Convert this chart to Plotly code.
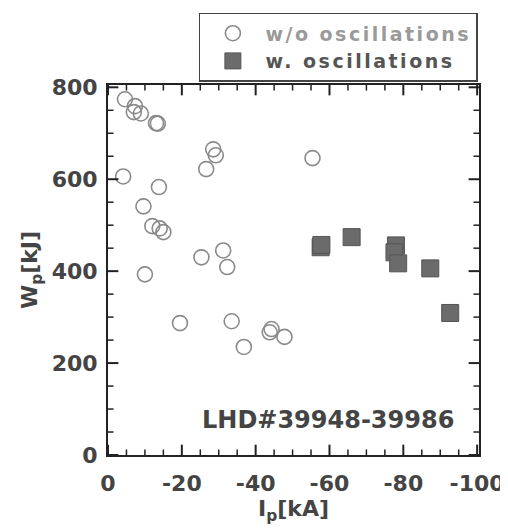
import plotly.graph_objects as go

# Data
ip_without = [-4.6, -7.3, -7.0, -8.9, -13.0, -13.5, -4.1, -13.8, -9.6, -12.0, -14.0, -15.0,
              -10.0, -25.3, -31.2, -32.3, -28.5, -29.2, -26.6, -55.4, -19.5, -33.5, -36.8,
              -43.8, -44.3, -47.8]
wp_without = [774, 759, 746, 743, 722, 721, 606, 583, 541, 498, 493, 485,
              393, 430, 445, 409, 665, 652, 622, 646, 287, 291, 235,
              267, 274, 257]

ip_with = [-57.6, -57.8, -66.0, -78.0, -77.6, -78.6, -87.3, -92.7]
wp_with = [452, 457, 474, 456, 441, 417, 406, 309]

x_ticks = [0, -20, -40, -60, -80, -100]
x_tick_labels = ["0", "-20", "-40", "-60", "-80", "-100"]
y_ticks = [0, 200, 400, 600, 800]
y_tick_labels = ["0", "200", "400", "600", "800"]
x_minor_step = 5
y_minor_step = 50

X_RANGE = [0, -100.5]
Y_RANGE = [0, 805]

FONT = "DejaVu Sans, Arial, sans-serif"
AX = "#222222"
TXT = "#444444"
MAJOR_LEN = 0.028   # fraction of the plot area
MINOR_LEN = 0.015

fig = go.Figure()
fig.add_trace(go.Scatter(
    x=ip_without, y=wp_without, mode="markers",
    name="<b><span style='color:#9a9a9a;letter-spacing:2.5px'>w/o oscillations</span></b>",
    marker=dict(symbol="circle-open", size=15, color="#8a8a8a", line=dict(width=1.6, color="#8a8a8a")),
))
fig.add_trace(go.Scatter(
    x=ip_with, y=wp_with, mode="markers",
    name="<b><span style='color:#555555;letter-spacing:2.5px'>w. oscillations</span></b>",
    marker=dict(symbol="square", size=17, color="#6b6b6b", line=dict(width=1, color="#555555")),
))

fig.add_annotation(
    x=-59.5, y=76, xref="x", yref="y",
    text="<b>LHD#39948-39986</b>", showarrow=False,
    font=dict(family=FONT, size=24, color=TXT),
)

# inward-pointing ticks on all four sides, placed at the axis tick values
x_minor = [v for v in range(0, int(x_ticks[-1]) - 1, -x_minor_step) if v not in x_ticks]
y_minor = [v for v in range(0, int(y_ticks[-1]) + 1, y_minor_step) if v not in y_ticks]
for v, ln, w in [(v, MAJOR_LEN, 2) for v in x_ticks] + [(v, MINOR_LEN, 1.5) for v in x_minor]:
    for base, sign in ((0, 1), (1, -1)):
        fig.add_shape(type="line", xref="x", yref="y domain", layer="above",
                      x0=v, x1=v, y0=base, y1=base + sign * ln, line=dict(color=AX, width=w))
for v, ln, w in [(v, MAJOR_LEN, 2) for v in y_ticks] + [(v, MINOR_LEN, 1.5) for v in y_minor]:
    for base, sign in ((0, 1), (1, -1)):
        fig.add_shape(type="line", yref="y", xref="x domain", layer="above",
                      y0=v, y1=v, x0=base, x1=base + sign * ln, line=dict(color=AX, width=w))

fig.update_layout(
    xaxis=dict(
        range=X_RANGE, tickmode="array", tickvals=x_ticks, ticktext=x_tick_labels,
        showline=True, linecolor=AX, linewidth=2, mirror=True, ticks="",
        ticklabelstandoff=8,
        showgrid=False, zeroline=False,
        tickfont=dict(family=FONT, size=22, color=TXT, weight="bold"),
        title=dict(text="<b>I<sub>p</sub>[kA]</b>", font=dict(family=FONT, size=22, color=TXT), standoff=5),
    ),
    yaxis=dict(
        range=Y_RANGE, tickmode="array", tickvals=y_ticks, ticktext=y_tick_labels,
        showline=True, linecolor=AX, linewidth=2, mirror=True, ticks="",
        ticklabelstandoff=4,
        showgrid=False, zeroline=False,
        tickfont=dict(family=FONT, size=22, color=TXT, weight="bold"),
        title=dict(text="<b>W<sub>p</sub>[kJ]</b>", font=dict(family=FONT, size=22, color=TXT), standoff=8),
    ),
)

fig.update_layout(
    width=500, height=520,
    margin=dict(l=100, r=29, t=77, b=73, autoexpand=False),
    paper_bgcolor="white", plot_bgcolor="white",
    showlegend=True,
    legend=dict(
        x=0.997, xanchor="right", y=1.195, yanchor="top",
        bordercolor="#444444", borderwidth=1.5, bgcolor="white",
        font=dict(family=FONT, size=19, color="#555555"),
        tracegroupgap=0, itemsizing="trace", itemwidth=55,
    ),
)

fig.write_html("out.html")
